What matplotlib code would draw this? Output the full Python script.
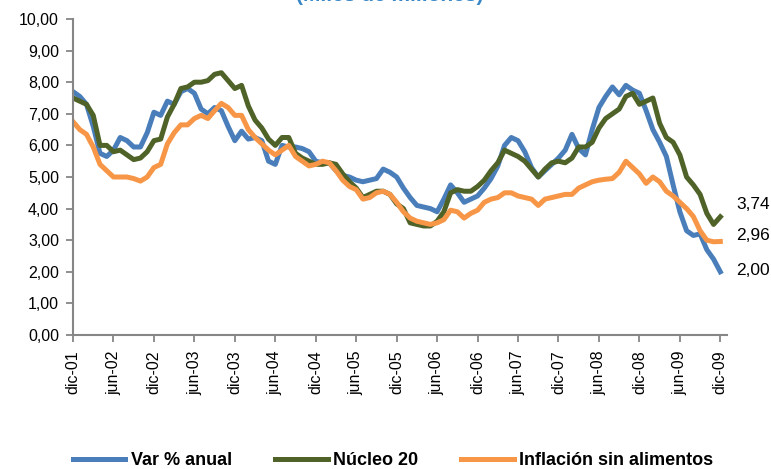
import numpy as np
import matplotlib.pyplot as plt

plt.rcParams['font.family'] = ['Liberation Sans', 'DejaVu Sans']

# Monthly series, dic-01 .. dic-09
var_anual = [7.70, 7.55, 7.30, 6.60, 5.75, 5.65, 5.85, 6.25, 6.15, 5.95,
             5.95, 6.40, 7.05, 6.95, 7.40, 7.30, 7.70, 7.80, 7.65, 7.15,
             7.00, 7.20, 7.10, 6.60, 6.15, 6.45, 6.20, 6.25, 6.15, 5.50,
             5.40, 6.00, 5.95, 5.95, 5.90, 5.80, 5.50, 5.45, 5.45, 5.20,
             5.05, 5.00, 4.90, 4.85, 4.90, 4.95, 5.25, 5.15, 5.00, 4.65,
             4.35, 4.10, 4.05, 4.00, 3.90, 4.30, 4.75, 4.50, 4.20, 4.30,
             4.40, 4.65, 4.95, 5.35, 6.00, 6.25, 6.15, 5.80, 5.30, 5.00,
             5.20, 5.40, 5.60, 5.85, 6.35, 5.90, 5.70, 6.50, 7.20, 7.55,
             7.85, 7.60, 7.90, 7.75, 7.65, 7.10, 6.50, 6.10, 5.65, 4.75,
             3.90, 3.30, 3.15, 3.20, 2.70, 2.40, 2.00]
nucleo_20 = [7.50, 7.40, 7.30, 6.95, 6.00, 6.00, 5.80, 5.85, 5.70, 5.55,
             5.60, 5.80, 6.15, 6.20, 6.90, 7.30, 7.80, 7.85, 8.00, 8.00,
             8.05, 8.25, 8.30, 8.05, 7.80, 7.90, 7.25, 6.80, 6.55, 6.20,
             6.00, 6.25, 6.25, 5.75, 5.60, 5.50, 5.40, 5.40, 5.45, 5.40,
             5.10, 4.85, 4.65, 4.35, 4.45, 4.55, 4.55, 4.45, 4.15, 4.00,
             3.55, 3.50, 3.45, 3.45, 3.60, 3.90, 4.50, 4.60, 4.55, 4.55,
             4.70, 4.90, 5.20, 5.45, 5.85, 5.75, 5.65, 5.50, 5.25, 5.00,
             5.25, 5.45, 5.50, 5.45, 5.60, 5.95, 5.95, 6.10, 6.55, 6.85,
             7.00, 7.15, 7.55, 7.65, 7.30, 7.40, 7.50, 6.70, 6.25, 6.10,
             5.70, 5.00, 4.75, 4.45, 3.85, 3.50, 3.74]
sin_alimentos = [6.75, 6.50, 6.35, 5.95, 5.40, 5.20, 5.00, 5.00, 5.00, 4.95,
                 4.87, 5.00, 5.30, 5.40, 6.05, 6.40, 6.65, 6.65, 6.85, 6.95,
                 6.85, 7.10, 7.33, 7.20, 6.95, 6.95, 6.50, 6.25, 6.05, 5.85,
                 5.70, 5.85, 6.00, 5.65, 5.50, 5.35, 5.40, 5.50, 5.45, 5.20,
                 4.90, 4.70, 4.60, 4.30, 4.35, 4.50, 4.55, 4.45, 4.20, 3.90,
                 3.70, 3.60, 3.55, 3.50, 3.55, 3.65, 3.95, 3.90, 3.70, 3.85,
                 3.95, 4.20, 4.30, 4.35, 4.50, 4.50, 4.40, 4.35, 4.30, 4.10,
                 4.30, 4.35, 4.40, 4.45, 4.45, 4.65, 4.75, 4.85, 4.90, 4.93,
                 4.95, 5.15, 5.50, 5.30, 5.10, 4.80, 5.00, 4.85, 4.55, 4.40,
                 4.20, 4.00, 3.75, 3.30, 3.00, 2.95, 2.96]

tick_labels = ['dic-01', 'jun-02', 'dic-02', 'jun-03', 'dic-03', 'jun-04',
               'dic-04', 'jun-05', 'dic-05', 'jun-06', 'dic-06', 'jun-07',
               'dic-07', 'jun-08', 'dic-08', 'jun-09', 'dic-09']

end_labels = ['3,74', '2,96', '2,00']

x = np.arange(len(var_anual))

fig = plt.figure(figsize=(7.71, 4.69), dpi=100)
ax = fig.add_axes([0.0947, 0.2857, 0.8483, 0.6738])

lw = 3.6
ax.plot(x, var_anual, color='#4A7EBB', lw=lw, label='Var % anual', solid_joinstyle='round')
ax.plot(x, nucleo_20, color='#4F6228', lw=lw, label='Núcleo 20', solid_joinstyle='round')
ax.plot(x, sin_alimentos, color='#F79646', lw=lw, label='Inflación sin alimentos',
        solid_joinstyle='round')

ax.set_xlim(0, 97)
ax.set_ylim(0, 10)
ax.set_yticks(np.arange(0, 11, 1))
ax.set_yticklabels([f'{v:.2f}'.replace('.', ',') for v in range(0, 11)], fontsize=11.5)
ax.set_xticks(np.arange(0, 97, 6))
ax.set_xticklabels(tick_labels, rotation=90, fontsize=11.5)

for s in ['top', 'right']:
    ax.spines[s].set_visible(False)
for s in ['left', 'bottom']:
    ax.spines[s].set_color('#868686')
    ax.spines[s].set_linewidth(1.5)
ax.tick_params(axis='both', direction='out', length=5, width=1.3, color='#868686',
               labelcolor='black')
ax.tick_params(axis='y', pad=5)
ax.tick_params(axis='x', pad=6)

# values at the end of each series
ends = [(nucleo_20[-1], 9), (sin_alimentos[-1], 4), (var_anual[-1], 1)]
for (val, dy), txt in zip(ends, end_labels):
    ax.annotate(txt, xy=(x[-1], val), xytext=(11.5, dy), textcoords='offset points',
                fontsize=12.5, va='center', ha='left', annotation_clip=False)

fig.text(0.506, 1 - 1 / 469, '(Miles de millones)', color='#3A87C8', fontsize=15,
         fontweight='bold', ha='center', va='baseline')

leg = fig.legend(loc='lower center', bbox_to_anchor=(0.51, -0.035), ncol=3,
                 frameon=False, handlelength=2.9, columnspacing=2.4,
                 handletextpad=0.3, prop={'size': 13, 'weight': 'bold'})

fig.savefig('out.png', dpi=100)
